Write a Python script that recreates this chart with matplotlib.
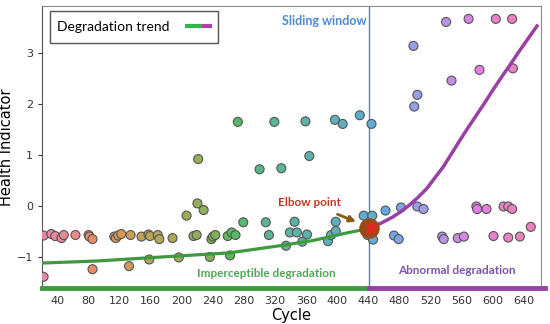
import matplotlib
matplotlib.use("Agg")
import matplotlib.pyplot as plt
from matplotlib.colors import ListedColormap, Normalize
from matplotlib.patches import Rectangle
import seaborn as sns

# health indicator samples
cycle = [22, 22, 32, 37, 45, 48, 63, 80, 81, 85, 85, 113, 115, 118, 122, 132,
         134, 148, 157, 158, 159, 169, 171, 188, 196, 206, 215, 219, 220, 221,
         228, 236, 238, 240, 243, 259, 262, 264, 269, 272, 279, 300, 308, 312,
         319, 328, 334, 339, 345, 348, 355, 359, 361, 364, 388, 392, 397, 398,
         398, 407, 429, 434, 439, 444, 445, 446, 462, 473, 479, 482, 498, 499,
         503, 503, 511, 535, 537, 540, 547, 555, 563, 569, 579, 580, 583, 592,
         601, 604, 614, 620, 620, 625, 625, 626, 635, 649]
hi = [-0.58, -1.39, -0.55, -0.59, -0.63, -0.57, -0.57, -0.57, -0.60, -0.65,
      -1.24, -0.60, -0.63, -0.58, -0.55, -1.18, -0.57, -0.60, -0.56, -1.05,
      -0.59, -0.57, -0.65, -0.63, -1.01, -0.19, -0.59, -0.57, 0.05, 0.92,
      -0.08, -1.00, -0.65, -0.60, -0.57, -0.59, -0.97, -0.52, -0.57, 1.65,
      -0.32, 0.72, -0.32, -0.57, 1.65, 0.74, -0.78, -0.52, -0.31, -0.52,
      -0.70, 1.66, -0.56, 0.98, -0.69, -0.57, 1.69, -0.31, -0.49, 1.61,
      1.78, -0.19, -0.57, 1.61, -0.19, -0.66, -0.09, -0.58, -0.65, -0.03,
      3.14, 1.95, -0.01, 2.18, -0.06, -0.60, -0.65, 3.61, 2.46, -0.63,
      -0.60, 3.67, -0.01, -0.06, 2.67, -0.06, -0.59, 3.67, -0.01, -0.01,
      -0.62, -0.06, 3.67, 2.70, -0.60, -0.41]

# fitted trend, before and after the elbow
trend1_x = [20, 90, 175, 261, 326, 368, 412, 432, 441]
trend1_y = [-1.12, -1.08, -1.00, -0.92, -0.78, -0.68, -0.53, -0.47, -0.43]
trend2_x = [441, 456, 471, 482, 493, 504, 515, 525, 536, 546, 557, 568, 579,
            590, 600, 611, 622, 633, 644, 657]
trend2_y = [-0.43, -0.34, -0.22, -0.11, 0.02, 0.17, 0.34, 0.54, 0.76, 1.00,
            1.27, 1.53, 1.78, 2.03, 2.27, 2.52, 2.76, 3.01, 3.25, 3.53]

elbow_x = 441
elbow_y = -0.43

xticks = list(range(40, 641, 40))
yticks = [-1, 0, 1, 2, 3]

green = "#3f9a3f"
purple = "#9a3fa6"

fig = plt.figure(figsize=(5.5, 3.24), dpi=100)
ax = fig.add_axes([0.0764, 0.111, 0.907, 0.870])

# colour follows the cycle, hue wheel starting at pink
cmap = ListedColormap(sns.husl_palette(360, h=0.94, s=0.72, l=0.68))
ax.scatter(cycle, hi, c=cycle, cmap=cmap, norm=Normalize(0, 632), s=42,
           edgecolors="#555555", linewidths=0.8, zorder=3)

ax.plot(trend1_x, trend1_y, color=green, lw=2.3, zorder=4)
ax.plot(trend2_x, trend2_y, color=purple, lw=2.5, zorder=4,
        solid_joinstyle="round")

ax.axvline(elbow_x, color="#4a86bf", lw=1, zorder=2)

ax.scatter([elbow_x], [elbow_y], s=190, color="#9a4a1a", zorder=5)
ax.scatter([elbow_x + 3], [elbow_y], s=28, marker="s", color="#e0281e", zorder=6)

ax.set_xlim(20, 662)
ax.set_ylim(-1.61, 3.92)

# thick baseline split at the elbow
ax.plot([20, elbow_x], [-1.61, -1.61], color=green, lw=3.5, clip_on=False, zorder=6)
ax.plot([elbow_x, 667], [-1.61, -1.61], color=purple, lw=3.5, clip_on=False, zorder=6)
ax.spines["bottom"].set_visible(False)
for s in ["top", "right"]:
    ax.spines[s].set_color("#8a8a8a")
ax.spines["left"].set_color("#555555")

ax.set_xticks(xticks)
ax.set_yticks(yticks)
ax.tick_params(labelsize=8, length=3, colors="#333333")
ax.tick_params(axis="x", length=0, pad=6)
ax.set_xlabel("Cycle", fontsize=10.5, labelpad=1)
ax.set_ylabel("Health Indicator", fontsize=10.5, labelpad=2)

font = "Lato"
ax.text(437, 3.63, "Sliding window", color="#4a8cd2", fontsize=9,
        fontweight="bold", family=font, ha="right", va="center")
ax.annotate("Elbow point", xy=(424, -0.31), xytext=(364, 0.06),
            color="#c03a26", fontsize=8.5, fontweight="bold", family=font,
            ha="center", va="center",
            arrowprops=dict(arrowstyle="-|>", color="#8a5a18", lw=2,
                            mutation_scale=9, shrinkA=6, shrinkB=0))
ax.text(309, -1.33, "Imperceptible degradation", color="#4fa855",
        fontsize=8.5, fontweight="bold", family=font, ha="center", va="center")
ax.text(554, -1.27, "Abnormal degradation", color="#7a55aa",
        fontsize=8.5, fontweight="bold", family=font, ha="center", va="center")

# legend box drawn by hand (two-colour line sample)
ax.add_patch(Rectangle((0.016, 0.869), 0.337, 0.113, transform=ax.transAxes,
                       facecolor="white", edgecolor="#555555", lw=1, zorder=7))
ax.text(0.030, 0.926, "Degradation trend", transform=ax.transAxes,
        fontsize=10, family=font, va="center", zorder=8)
ax.plot([0.287, 0.321], [0.928, 0.928], transform=ax.transAxes,
        color="#2fb84a", lw=3, solid_capstyle="butt", zorder=8)
ax.plot([0.321, 0.341], [0.928, 0.928], transform=ax.transAxes,
        color="#b03fb0", lw=3, solid_capstyle="butt", zorder=8)

fig.savefig("out.png", dpi=100)
